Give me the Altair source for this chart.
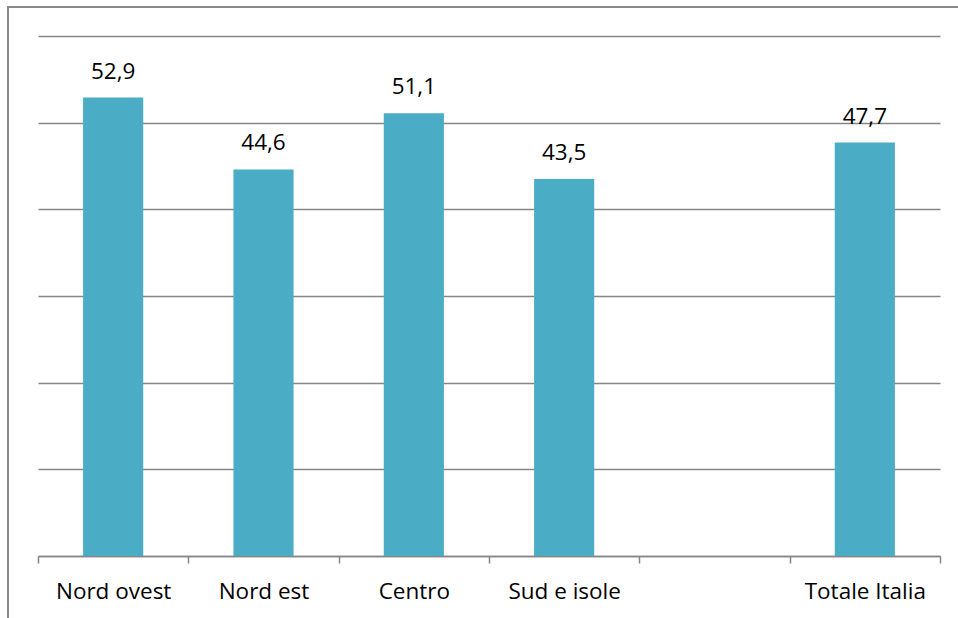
import altair as alt
import pandas as pd

# Regional values (percent); the blank slot separates the national total
categories = ["Nord ovest", "Nord est", "Centro", "Sud e isole", " ", "Totale Italia"]
values = [52.9, 44.6, 51.1, 43.5, None, 47.7]
labels = ["52,9", "44,6", "51,1", "43,5", "", "47,7"]

df = pd.DataFrame({"area": categories, "valore": values, "etichetta": labels})
bars_df = df.dropna(subset=["valore"])

FONT = "Open Sans"
GRID = "#868686"
SIZE = 22.5

x = alt.X(
    "area:N",
    sort=categories,
    scale=alt.Scale(domain=categories, paddingInner=0, paddingOuter=0),
    axis=alt.Axis(
        title=None,
        labelAngle=0,
        tickBand="extent",
        tickSize=7,
        tickColor=GRID,
        domainColor=GRID,
        domainWidth=1.5,
        tickWidth=1.5,
        labelPadding=17,
        labelFont=FONT,
        labelFontSize=SIZE,
        labelColor="#000000",
        grid=False,
    ),
)
y = alt.Y(
    "valore:Q",
    scale=alt.Scale(domain=[0, 60], nice=False),
    axis=alt.Axis(
        title=None,
        values=[0, 10, 20, 30, 40, 50, 60],
        labels=False,
        ticks=False,
        domain=False,
        grid=True,
        gridColor=GRID,
        gridWidth=1.5,
    ),
)

bars = alt.Chart(bars_df).mark_bar(
    color="#4BACC6", width=alt.RelativeBandSize(0.4)
).encode(x=x, y=y)

text = alt.Chart(bars_df).mark_text(
    font=FONT, fontSize=SIZE, color="#000000", baseline="alphabetic", dy=-19
).encode(x=x, y=y, text="etichetta:N")

# Outer chart frame
frame = alt.Chart(bars_df).mark_rect(
    fill=None, stroke="#898989", strokeWidth=2, clip=False
).encode(
    x=alt.value(-30), x2=alt.value(1000), y=alt.value(-29), y2=alt.value(700)
)

chart = (
    alt.layer(frame, bars, text)
    .properties(
        width=902,
        height=520,
        background="#ffffff",
        autosize=alt.AutoSizeParams(type="none"),
        padding={"left": 38, "top": 36, "right": 18, "bottom": 62},
    )
    .configure_view(strokeWidth=0, stroke="transparent")
)

chart.save("out.html", embed_options={"renderer": "svg", "actions": False})
